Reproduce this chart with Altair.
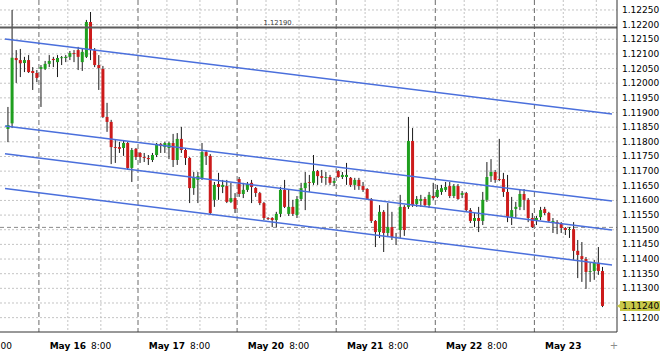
import altair as alt
import pandas as pd

# ---- candle data (EURUSD H1), index 0..144 ----
open_ = [1.11844, 1.11863, 1.12086, 1.12079, 1.12069, 1.12079, 1.12042, 1.12035, 1.12049, 1.12049,
         1.12066, 1.12083, 1.12072, 1.12086, 1.12086, 1.12090, 1.12103, 1.12113, 1.12072, 1.12090,
         1.12209, 1.12113, 1.12062, 1.12049, 1.11885, 1.11868, 1.11782, 1.11782, 1.11779, 1.11796,
         1.11711, 1.11776, 1.11762, 1.11748, 1.11745, 1.11738, 1.11755, 1.11793, 1.11782, 1.11779,
         1.11796, 1.11738, 1.11810, 1.11772, 1.11745, 1.11642, 1.11670, 1.11677, 1.11765, 1.11752,
         1.11602, 1.11656, 1.11646, 1.11649, 1.11595, 1.11608, 1.11673, 1.11622, 1.11636, 1.11660,
         1.11642, 1.11625, 1.11591, 1.11540, 1.11540, 1.11533, 1.11554, 1.11636, 1.11554, 1.11578,
         1.11550, 1.11605, 1.11642, 1.11663, 1.11660, 1.11700, 1.11683, 1.11677, 1.11680, 1.11660,
         1.11700, 1.11680, 1.11680, 1.11677, 1.11653, 1.11670, 1.11649, 1.11639, 1.11605, 1.11530,
         1.11492, 1.11561, 1.11489, 1.11509, 1.11472, 1.11499, 1.11578, 1.11578, 1.11803, 1.11588,
         1.11598, 1.11605, 1.11584, 1.11615, 1.11612, 1.11629, 1.11636, 1.11649, 1.11615, 1.11649,
         1.11619, 1.11625, 1.11567, 1.11530, 1.11540, 1.11530, 1.11602, 1.11683, 1.11697, 1.11673,
         1.11673, 1.11629, 1.11543, 1.11571, 1.11578, 1.11622, 1.11602, 1.11540, 1.11533, 1.11543,
         1.11571, 1.11557, 1.11526, 1.11526, 1.11523, 1.11506, 1.11499, 1.11502, 1.11428, 1.11410,
         1.11400, 1.11356, 1.11359, 1.11387, 1.11359]
close = [1.11857, 1.12087, 1.12079, 1.12068, 1.12079, 1.12038, 1.12035, 1.12018, 1.12055, 1.12066,
         1.12076, 1.12079, 1.12086, 1.12088, 1.12090, 1.12103, 1.12100, 1.12090, 1.12107, 1.12209,
         1.12113, 1.12062, 1.12052, 1.11885, 1.11868, 1.11782, 1.11779, 1.11776, 1.11796, 1.11711,
         1.11772, 1.11748, 1.11748, 1.11745, 1.11741, 1.11755, 1.11793, 1.11786, 1.11796, 1.11796,
         1.11738, 1.11810, 1.11772, 1.11745, 1.11642, 1.11677, 1.11683, 1.11765, 1.11752, 1.11557,
         1.11653, 1.11646, 1.11653, 1.11595, 1.11608, 1.11571, 1.11622, 1.11636, 1.11656, 1.11646,
         1.11625, 1.11591, 1.11540, 1.11537, 1.11533, 1.11554, 1.11636, 1.11578, 1.11578, 1.11554,
         1.11605, 1.11642, 1.11660, 1.11660, 1.11700, 1.11683, 1.11677, 1.11680, 1.11660, 1.11666,
         1.11680, 1.11687, 1.11687, 1.11653, 1.11670, 1.11649, 1.11636, 1.11605, 1.11530, 1.11492,
         1.11561, 1.11489, 1.11509, 1.11475, 1.11475, 1.11578, 1.11499, 1.11803, 1.11584, 1.11605,
         1.11605, 1.11584, 1.11619, 1.11608, 1.11636, 1.11642, 1.11646, 1.11615, 1.11649, 1.11605,
         1.11625, 1.11567, 1.11530, 1.11540, 1.11530, 1.11602, 1.11680, 1.11697, 1.11670, 1.11670,
         1.11629, 1.11543, 1.11567, 1.11578, 1.11622, 1.11602, 1.11540, 1.11509, 1.11540, 1.11567,
         1.11557, 1.11530, 1.11530, 1.11520, 1.11506, 1.11499, 1.11502, 1.11428, 1.11414, 1.11400,
         1.11356, 1.11359, 1.11387, 1.11359, 1.11240]
high = [1.11919, 1.12250, 1.12113, 1.12117, 1.12090, 1.12096, 1.12055, 1.12045, 1.12062, 1.12076,
        1.12096, 1.12090, 1.12096, 1.12093, 1.12096, 1.12110, 1.12113, 1.12124, 1.12120, 1.12216,
        1.12243, 1.12120, 1.12096, 1.12059, 1.11933, 1.11875, 1.11806, 1.11800, 1.11806, 1.11800,
        1.11779, 1.11779, 1.11765, 1.11762, 1.11755, 1.11762, 1.11796, 1.11796, 1.11800, 1.11800,
        1.11827, 1.11830, 1.11851, 1.11779, 1.11748, 1.11697, 1.11697, 1.11796, 1.11772, 1.11758,
        1.11663, 1.11694, 1.11670, 1.11670, 1.11660, 1.11625, 1.11680, 1.11660, 1.11663, 1.11670,
        1.11646, 1.11629, 1.11595, 1.11543, 1.11543, 1.11561, 1.11646, 1.11670, 1.11636, 1.11602,
        1.11615, 1.11660, 1.11697, 1.11687, 1.11755, 1.11704, 1.11704, 1.11697, 1.11687, 1.11677,
        1.11704, 1.11697, 1.11728, 1.11680, 1.11677, 1.11677, 1.11663, 1.11642, 1.11608, 1.11533,
        1.11584, 1.11567, 1.11591, 1.11561, 1.11489, 1.11619, 1.11584, 1.11885, 1.11847, 1.11615,
        1.11619, 1.11612, 1.11629, 1.11660, 1.11653, 1.11653, 1.11663, 1.11663, 1.11656, 1.11656,
        1.11632, 1.11629, 1.11574, 1.11557, 1.11578, 1.11629, 1.11731, 1.11741, 1.11704, 1.11810,
        1.11694, 1.11687, 1.11612, 1.11595, 1.11636, 1.11639, 1.11608, 1.11557, 1.11547, 1.11578,
        1.11578, 1.11561, 1.11540, 1.11533, 1.11526, 1.11509, 1.11509, 1.11526, 1.11465, 1.11458,
        1.11407, 1.11387, 1.11397, 1.11441, 1.11373]
low = [1.11799, 1.11847, 1.12001, 1.12021, 1.12038, 1.12035, 1.11977, 1.12004, 1.11919, 1.12045,
       1.12055, 1.12055, 1.12021, 1.12062, 1.12072, 1.12079, 1.12072, 1.12045, 1.12042, 1.12086,
       1.12079, 1.12055, 1.11977, 1.11881, 1.11834, 1.11724, 1.11728, 1.11762, 1.11752, 1.11704,
       1.11663, 1.11738, 1.11728, 1.11731, 1.11721, 1.11731, 1.11748, 1.11762, 1.11762, 1.11741,
       1.11714, 1.11721, 1.11762, 1.11721, 1.11591, 1.11619, 1.11591, 1.11670, 1.11721, 1.11550,
       1.11578, 1.11602, 1.11625, 1.11591, 1.11591, 1.11557, 1.11612, 1.11608, 1.11629, 1.11591,
       1.11612, 1.11584, 1.11533, 1.11533, 1.11509, 1.11509, 1.11543, 1.11574, 1.11547, 1.11547,
       1.11540, 1.11598, 1.11567, 1.11629, 1.11653, 1.11653, 1.11660, 1.11653, 1.11653, 1.11649,
       1.11677, 1.11673, 1.11653, 1.11646, 1.11636, 1.11636, 1.11629, 1.11602, 1.11523, 1.11441,
       1.11472, 1.11424, 1.11475, 1.11465, 1.11448, 1.11472, 1.11479, 1.11571, 1.11578, 1.11578,
       1.11578, 1.11578, 1.11574, 1.11602, 1.11608, 1.11619, 1.11629, 1.11608, 1.11608, 1.11602,
       1.11608, 1.11561, 1.11523, 1.11509, 1.11492, 1.11516, 1.11595, 1.11663, 1.11660, 1.11666,
       1.11612, 1.11526, 1.11516, 1.11540, 1.11567, 1.11567, 1.11526, 1.11506, 1.11516, 1.11533,
       1.11550, 1.11526, 1.11489, 1.11485, 1.11489, 1.11482, 1.11472, 1.11397, 1.11335, 1.11322,
       1.11298, 1.11322, 1.11329, 1.11346, 1.11236]

grid_prices = [1.11200, 1.11250, 1.11300, 1.11350, 1.11400, 1.11450, 1.11500, 1.11550,
               1.11600, 1.11650, 1.11700, 1.11750, 1.11800, 1.11850, 1.11900, 1.11950,
               1.12000, 1.12050, 1.12100, 1.12150, 1.12200, 1.12250]
axis_prices = [1.11200, 1.11300, 1.11350, 1.11400, 1.11450, 1.11500, 1.11550,
               1.11600, 1.11650, 1.11700, 1.11750, 1.11800, 1.11850, 1.11900, 1.11950,
               1.12000, 1.12050, 1.12100, 1.12150, 1.12200, 1.12250]
axis_labels = ["1.11200", "1.11300", "1.11350", "1.11400", "1.11450", "1.11500", "1.11550",
               "1.11600", "1.11650", "1.11700", "1.11750", "1.11800", "1.11850", "1.11900",
               "1.11950", "1.12000", "1.12050", "1.12100", "1.12150", "1.12200", "1.12250"]
day_sep_bars = [7.5, 31.5, 55.5, 79.5, 103.5, 127.5]
grid_bars = [14.5, 22.5, 38.5, 46.5, 62.5, 70.5, 86.5, 94.5, 110.5, 118.5, 134.5, 142.5]
date_labels = ["May 16", "May 17", "May 20", "May 21", "May 22", "May 23"]
date_label_bars = [10.1, 34.1, 58.1, 82.1, 106.1, 130.1]
time_labels = ["8:00", "8:00", "8:00", "8:00", "8:00", "8:00"]
time_label_bars = [-3.9, 20.1, 44.1, 68.1, 92.1, 116.1]
hline_price = 1.12190
hline_label = "1.12190"
hline_label_bar = 61.9
dash_price = 1.11508
last_price = 1.11240
last_label = "1.11240"
channel_start = [1.12151, 1.11854, 1.11759, 1.11641]
channel_end = [1.11895, 1.11598, 1.11499, 1.11380]
x_domain = [-0.715, 146.3]
y_domain = [1.11151, 1.12284]

W, H = 617, 332
FONT = "DejaVu Sans"

candles = pd.DataFrame({"bar": list(range(len(open_))), "open": open_, "close": close,
                        "high": high, "low": low})
xs = alt.Scale(domain=x_domain, nice=False, zero=False)
ys = alt.Scale(domain=y_domain, nice=False, zero=False)


def X(field):
    return alt.X(field, scale=xs, axis=None)


def Y(field):
    return alt.Y(field, scale=ys, axis=None)


hgrid = alt.Chart(pd.DataFrame({"p": grid_prices})).mark_rule(
    color="#c4c4c4", strokeDash=[2, 2], strokeWidth=1
).encode(y=Y("p:Q"), x=alt.value(0), x2=alt.value(W))

vgrid = alt.Chart(pd.DataFrame({"b": grid_bars})).mark_rule(
    color="#c4c4c4", strokeDash=[2, 2], strokeWidth=1
).encode(x=X("b:Q"), y=alt.value(0), y2=alt.value(H))

daysep = alt.Chart(pd.DataFrame({"b": day_sep_bars})).mark_rule(
    color="#6a6a6a", strokeDash=[5, 3], strokeWidth=1
).encode(x=X("b:Q"), y=alt.value(0), y2=alt.value(H))

dashline = alt.Chart(pd.DataFrame({"p": [dash_price]})).mark_rule(
    color="#8a8a8a", strokeDash=[4, 3], strokeWidth=1
).encode(y=Y("p:Q"), x=alt.value(0), x2=alt.value(W))

wicks = alt.Chart(candles).mark_rule(color="#1a1a1a", strokeWidth=1).encode(
    x=X("bar:Q"), y=Y("low:Q"), y2="high:Q"
)

bodies = alt.Chart(candles).transform_calculate(
    top="max(datum.open, datum.close)",
    bot="min(datum.open, datum.close)",
    dir="datum.close >= datum.open ? 'up' : 'down'",
).transform_calculate(
    t2="datum.top - datum.bot < 0.00003 ? (datum.top + datum.bot) / 2 + 0.000015 : datum.top",
    b2="datum.top - datum.bot < 0.00003 ? (datum.top + datum.bot) / 2 - 0.000015 : datum.bot",
).mark_bar(size=3).encode(
    x=X("bar:Q"),
    y=Y("t2:Q"),
    y2="b2:Q",
    color=alt.Color("dir:N", scale=alt.Scale(domain=["up", "down"], range=["#1f9f1f", "#cc1b1b"]),
                    legend=None),
)

channels = alt.Chart(pd.DataFrame({
    "x0": [x_domain[0]] * len(channel_start), "x1": [x_domain[1]] * len(channel_start),
    "y0": channel_start, "y1": channel_end})).mark_rule(
    color="#4a6fdc", strokeWidth=1.5
).encode(x=X("x0:Q"), x2="x1:Q", y=Y("y0:Q"), y2="y1:Q")

hline = alt.Chart(pd.DataFrame({"p": [hline_price]})).mark_rule(
    color="#5c5c5c", strokeWidth=2
).encode(y=Y("p:Q"), x=alt.value(0), x2=alt.value(W))

hline_text = alt.Chart(pd.DataFrame({"b": [hline_label_bar], "p": [hline_price], "t": [hline_label]})).mark_text(
    align="left", baseline="bottom", dy=-2, font=FONT, fontSize=6.8, color="#444444"
).encode(x=X("b:Q"), y=Y("p:Q"), text="t:N")

# frame lines (bottom and right axis lines)
frame_bottom = alt.Chart(pd.DataFrame({"k": [0]})).mark_rule(color="#333333", strokeWidth=1).encode(
    x=alt.value(0), x2=alt.value(W), y=alt.value(H))
frame_right = alt.Chart(pd.DataFrame({"k": [0]})).mark_rule(color="#333333", strokeWidth=1).encode(
    x=alt.value(W), y=alt.value(0), y2=alt.value(H))

ylabels = alt.Chart(pd.DataFrame({"p": axis_prices, "t": axis_labels})).mark_text(
    align="left", baseline="middle", font=FONT, fontSize=9, color="#000000"
).encode(x=alt.value(W + 5), y=Y("p:Q"), text="t:N")

last_df = pd.DataFrame({"p": [last_price], "t": [last_label]})
last_box = alt.Chart(last_df).transform_calculate(
    a="datum.p + 0.00017", b="datum.p - 0.00017"
).mark_rect(color="#c9c94a").encode(
    x=alt.value(620), x2=alt.value(660), y=Y("a:Q"), y2="b:Q"
)
last_arrow = alt.Chart(last_df).mark_point(
    shape="triangle-left", filled=True, size=30, color="#c9c94a", opacity=1
).encode(x=alt.value(619), y=Y("p:Q"))
last_text = alt.Chart(last_df).mark_text(
    align="left", baseline="middle", font=FONT, fontSize=9, color="#000000"
).encode(x=alt.value(W + 5), y=Y("p:Q"), text="t:N")

date_text = alt.Chart(pd.DataFrame({"b": date_label_bars, "t": date_labels})).mark_text(
    align="left", baseline="middle", font=FONT, fontSize=9, fontWeight="bold", color="#000000"
).encode(x=X("b:Q"), y=alt.value(H + 14), text="t:N")

time_text = alt.Chart(pd.DataFrame({"b": time_label_bars, "t": time_labels})).mark_text(
    align="left", baseline="middle", font=FONT, fontSize=9, color="#000000"
).encode(x=X("b:Q"), y=alt.value(H + 14), text="t:N")

plus = alt.Chart(pd.DataFrame({"t": ["+"]})).mark_text(
    align="center", baseline="middle", font=FONT, fontSize=10, color="#8c8c8c"
).encode(x=alt.value(W - 3), y=alt.value(H + 14), text="t:N")

chart = alt.layer(
    hgrid, vgrid, daysep, dashline, wicks, bodies, channels, hline, hline_text,
    frame_bottom, frame_right, ylabels,
    last_box, last_arrow, last_text, date_text, time_text, plus
).properties(
    width=W, height=H, autosize="none",
    padding={"left": 0, "top": 0, "right": 43, "bottom": 21},
    background="#ffffff",
).configure_view(strokeWidth=0)

chart.save("out.html", embed_options={"renderer": "svg", "actions": False})
